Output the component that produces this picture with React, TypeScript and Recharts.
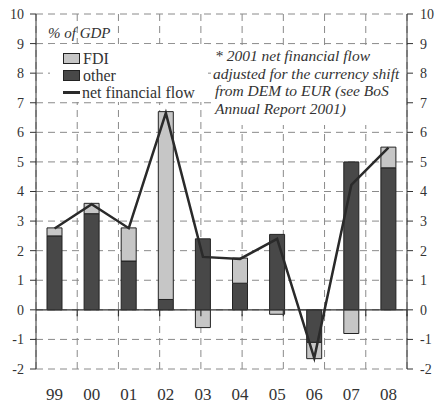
import React from 'react';
import {
  ComposedChart,
  Bar,
  Line,
  XAxis,
  YAxis,
  CartesianGrid,
  ReferenceLine,
} from 'recharts';

const years = ['99', '00', '01', '02', '03', '04', '05', '06', '07', '08'];
const otherFlow = [2.5, 3.25, 1.65, 0.35, 2.4, 0.9, 2.55, -1.1, 5.0, 4.8];
const fdiFlow = [0.27, 0.35, 1.12, 6.35, -0.6, 0.85, -0.15, -0.55, -0.8, 0.7];
const netFlow = [2.75, 3.57, 2.76, 6.65, 1.79, 1.72, 2.4, -1.63, 4.22, 5.48];
const yTicks = [-2, -1, 0, 1, 2, 3, 4, 5, 6, 7, 8, 9, 10];
const bandEdges = [0, 1, 2, 3, 4, 5, 6, 7, 8, 9, 10];
const noteLines = [
  '* 2001 net financial flow',
  'adjusted for the currency shift',
  'from DEM to EUR (see BoS',
  'Annual Report 2001)',
];

const data = years.map((year, i) => ({
  year,
  other: otherFlow[i],
  fdi: fdiFlow[i],
  net: netFlow[i],
}));

const FONT = "'Liberation Serif', 'DejaVu Serif', 'Noto Serif', serif";
const TEXT = '#333';
const AXIS = '#333';
const GRID = '#8a8a8a';
const DARK = '#484848';
const LIGHT = '#c6c6c6';

const tickFont = { fontFamily: FONT, fontSize: 14, fill: TEXT };

export default function App() {
  return (
    <div style={{ position: 'absolute', left: 0, top: 0, width: 436, height: 408, background: '#fff', fontFamily: FONT }}>
      <ComposedChart
        width={436}
        height={408}
        data={data}
        stackOffset="sign"
        margin={{ top: 14, right: 0, left: 0, bottom: 0 }}
      >
        <XAxis xAxisId="grid" type="number" domain={[0, 10]} ticks={bandEdges} hide />
        <CartesianGrid xAxisId="grid" stroke={GRID} strokeDasharray="7 5" />
        <XAxis
          dataKey="year"
          height={39}
          axisLine={false}
          tickLine={false}
          tickSize={0}
          tickMargin={19}
          interval={0}
          tick={{ fontFamily: FONT, fontSize: 17, fill: TEXT }}
        />
        <YAxis
          width={36}
          domain={[-2, 10]}
          ticks={yTicks}
          interval={0}
          stroke={AXIS}
          tickSize={6}
          tickMargin={6}
          tick={tickFont}
          allowDataOverflow
        />
        <YAxis
          yAxisId="right"
          orientation="right"
          width={29}
          domain={[-2, 10]}
          ticks={yTicks}
          interval={0}
          stroke={AXIS}
          tickSize={6}
          tickMargin={7}
          tick={tickFont}
          allowDataOverflow
        />
        <ReferenceLine y={0} stroke={AXIS} strokeWidth={1.2} />
        {bandEdges.slice(1, -1).map((e) => (
          <ReferenceLine
            key={e}
            xAxisId="grid"
            segment={[{ x: e, y: 0 }, { x: e, y: -0.22 }]}
            stroke={AXIS}
            strokeWidth={1.2}
          />
        ))}
        <Bar dataKey="other" stackId="a" barSize={15} fill={DARK} stroke="#222" strokeWidth={1} isAnimationActive={false} />
        <Bar dataKey="fdi" stackId="a" barSize={15} fill={LIGHT} stroke="#222" strokeWidth={1} isAnimationActive={false} />
        <Line
          dataKey="net"
          type="linear"
          stroke="#2a2a2a"
          strokeWidth={2.5}
          dot={false}
          isAnimationActive={false}
        />
      </ComposedChart>

      <div
        style={{
          position: 'absolute',
          left: 48,
          top: 25,
          lineHeight: '17px',
          fontFamily: FONT,
          fontStyle: 'italic',
          fontSize: 15,
          color: TEXT,
          whiteSpace: 'nowrap',
        }}
      >
        % of GDP
      </div>

      <div
        style={{
          position: 'absolute',
          left: 50,
          top: 44,
          width: 158,
          height: 58,
          paddingTop: 6,
          boxSizing: 'border-box',
          background: '#fff',
          fontFamily: FONT,
          fontSize: 16,
          lineHeight: '17px',
          color: TEXT,
        }}
      >
        {[
          { label: 'FDI', kind: 'box', color: LIGHT },
          { label: 'other', kind: 'box', color: DARK },
          { label: 'net financial flow', kind: 'line', color: '#2a2a2a' },
        ].map((item) => (
          <div key={item.label} style={{ display: 'flex', alignItems: 'center', height: 17, whiteSpace: 'nowrap' }}>
            {item.kind === 'box' ? (
              <span
                style={{
                  display: 'inline-block',
                  width: 15,
                  height: 9,
                  marginLeft: 13,
                  marginRight: 3,
                  background: item.color,
                  border: '1px solid #222',
                }}
              />
            ) : (
              <span
                style={{
                  display: 'inline-block',
                  width: 17,
                  height: 3,
                  marginLeft: 13,
                  marginRight: 2,
                  background: item.color,
                }}
              />
            )}
            <span style={{ display: 'block', height: 17, lineHeight: '17px' }}>{item.label}</span>
          </div>
        ))}
      </div>

      <div
        style={{
          position: 'absolute',
          left: 212,
          top: 45,
          width: 194,
          height: 80,
          paddingTop: 2,
          boxSizing: 'border-box',
          background: '#fff',
          fontFamily: FONT,
          fontStyle: 'italic',
          fontSize: 15.5,
          color: TEXT,
        }}
      >
        {noteLines.map((line, i) => (
          <div
            key={line}
            style={{ height: 17.5, lineHeight: '17.5px', paddingLeft: i === 1 ? 1 : 3, whiteSpace: 'nowrap' }}
          >
            {line}
          </div>
        ))}
      </div>
    </div>
  );
}
